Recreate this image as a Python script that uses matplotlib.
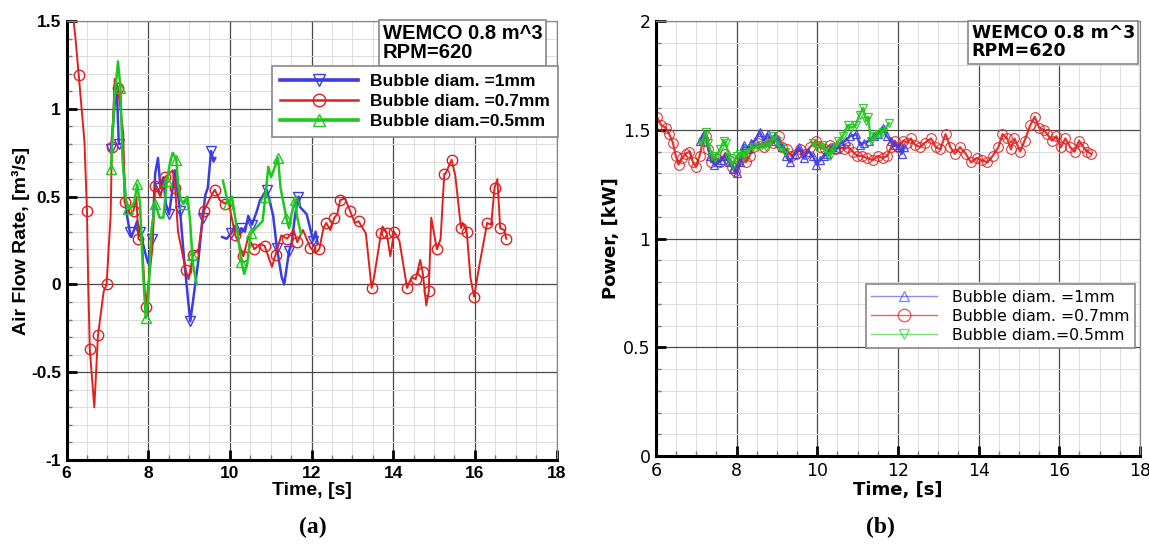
import numpy as np
import matplotlib.pyplot as plt
from matplotlib.lines import Line2D
from matplotlib.ticker import MultipleLocator

nan = np.nan

# ---- (a) air flow rate ----
t_red_a = [6.15, 6.22, 6.30, 6.44, 6.50, 6.53, 6.57, 6.68, 6.77, 6.91, 6.98, 7.08, 7.11, 7.18,
           7.26, 7.39, 7.42, 7.55, 7.64, 7.71, 7.76, 7.85, 7.94, 8.10, 8.17, 8.30, 8.41, 8.60,
           8.66, 8.73, 8.92, 8.99, 9.10, 9.23, 9.37, 9.49, 9.63, 9.75, 9.88, 9.96, 10.13, 10.21,
           10.33, 10.45, 10.60, 10.74, 10.85, 11.03, 11.12, 11.26, 11.40, 11.56, 11.65, 11.79,
           11.97, 12.10, 12.19, 12.29, 12.36, 12.46, 12.56, 12.63, 12.70, 12.82, 12.94, 13.06,
           13.15, 13.33, 13.47, 13.53, 13.70, 13.74, 13.84, 13.93, 14.02, 14.15, 14.34, 14.45,
           14.55, 14.66, 14.72, 14.81, 14.87, 14.93, 15.07, 15.16, 15.25, 15.28, 15.43, 15.52,
           15.66, 15.70, 15.80, 15.89, 15.98, 16.11, 16.30, 16.40, 16.48, 16.55, 16.62, 16.72, 16.77]
v_red_a = [1.55, 1.40, 1.19, 0.81, 0.42, 0.02, -0.37, -0.70, -0.29, -0.04, 0.00, 0.39, 0.78, 1.17,
           1.12, 0.86, 0.47, 0.40, 0.42, 0.50, 0.26, 0.24, -0.13, 0.20, 0.56, 0.50, 0.61, 0.65,
           0.55, 0.30, 0.08, 0.03, 0.17, 0.20, 0.42, 0.48, 0.54, 0.48, 0.46, 0.48, 0.28, 0.24,
           0.16, 0.27, 0.20, 0.23, 0.22, 0.10, 0.17, 0.28, 0.26, 0.31, 0.24, 0.31,
           0.21, 0.18, 0.20, 0.32, 0.35, 0.31, 0.38, 0.40, 0.48, 0.49, 0.42, 0.35,
           0.36, 0.29, -0.02, 0.04, 0.29, 0.33, 0.29, 0.16, 0.30, 0.25, -0.02, 0.04,
           0.03, 0.14, 0.07, -0.12, -0.04, 0.38, 0.20, 0.26, 0.63, 0.63, 0.71, 0.62,
           0.32, 0.35, 0.30, 0.04, -0.07, 0.11, 0.35, 0.34, 0.55, 0.60, 0.32, 0.31, 0.26]

t_blue_a = [7.09, 7.17, 7.23, 7.28, 7.37, 7.46, 7.55, 7.59, 7.73, 7.80, 7.96, 8.00, 8.10, 8.17,
            8.24, 8.30, 8.37, 8.43, 8.51, 8.60, 8.65, 8.78, 8.87, 8.96, 9.03, 9.14, 9.23, 9.33,
            9.40, 9.46, 9.54, 9.60, 9.64, nan,
            9.81, 9.92, 10.03, 10.15, 10.21, 10.28, 10.37, 10.45, 10.54, 10.65, 10.74, 10.90,
            10.97, 11.06, 11.15, 11.27, 11.33, 11.45, 11.51, 11.60, 11.68, 11.72, 11.88, 12.04,
            12.10, 12.15]
v_blue_a = [0.77, 1.00, 1.13, 0.80, 0.80, 0.42, 0.30, 0.27, 0.36, 0.30, 0.15, 0.12, 0.26, 0.63,
            0.72, 0.55, 0.61, 0.46, 0.40, 0.55, 0.65, 0.42, 0.17, -0.05, -0.21, -0.02, 0.14, 0.38,
            0.51, 0.55, 0.76, 0.70, 0.72, nan,
            0.27, 0.26, 0.29, 0.34, 0.28, 0.32, 0.30, 0.39, 0.34, 0.41, 0.48, 0.54,
            0.48, 0.39, 0.21, 0.04, 0.00, 0.19, 0.23, 0.40, 0.50, 0.44, 0.40, 0.25,
            0.30, 0.23]

t_green_a = [7.09, 7.17, 7.26, 7.32, 7.37, 7.44, 7.50, 7.59, 7.66, 7.73, 7.80, 7.87, 7.94, 8.00,
             8.08, 8.17, 8.28, 8.37, 8.46, 8.53, 8.60, 8.69, 8.73, 8.80, 8.87, 8.96, 9.02, 9.08,
             9.10, 9.19, nan,
             9.83, 9.90, 9.96, 10.05, 10.19, 10.28, 10.35, 10.42, 10.51, 10.63, 10.80, 10.87,
             10.94, 11.01, 11.18, 11.24, 11.30, 11.38, 11.45, 11.51, 11.60, 11.65, 11.74]
v_green_a = [0.66, 1.05, 1.27, 1.12, 0.72, 0.51, 0.43, 0.44, 0.47, 0.57, 0.46, 0.08, -0.19, -0.09,
             0.31, 0.46, 0.38, 0.38, 0.59, 0.69, 0.75, 0.71, 0.57, 0.48, 0.46, 0.50, 0.38, 0.17,
             0.11, 0.00, nan,
             0.59, 0.52, 0.46, 0.50, 0.29, 0.13, 0.06, 0.11, 0.29, 0.32, 0.36, 0.50,
             0.67, 0.61, 0.72, 0.55, 0.48, 0.38, 0.32, 0.40, 0.48, 0.38, 0.29]

# ---- (b) power ----
t_red_b = [6.02, 6.13, 6.24, 6.33, 6.42, 6.49, 6.56, 6.65, 6.74, 6.83, 6.92, 6.99, 7.08, 7.17,
           7.23, 7.30, 7.37, 7.48, 7.59, 7.71, 7.80, 7.89, 7.95, 8.05, 8.14, 8.23, 8.32, 8.41,
           8.54, 8.68, 8.79, 8.90, 9.04, 9.13, 9.24, 9.35, 9.46, 9.58, 9.69, 9.82, 9.96, 10.07,
           10.18, 10.32, 10.43, 10.54, 10.66, 10.77, 10.88, 10.99, 11.11, 11.24, 11.38, 11.50,
           11.62, 11.74, 11.83, 11.92, 12.01, 12.13, 12.23, 12.32, 12.43, 12.55, 12.67, 12.82,
           12.94, 13.05, 13.18, 13.30, 13.41, 13.54, 13.68, 13.81, 13.95, 14.08, 14.22, 14.35,
           14.49, 14.59, 14.71, 14.80, 14.89, 15.03, 15.14, 15.28, 15.39, 15.50, 15.61, 15.70,
           15.82, 15.93, 16.04, 16.15, 16.27, 16.38, 16.49, 16.60, 16.69, 16.78]
v_red_b = [1.56, 1.52, 1.51, 1.48, 1.44, 1.38, 1.34, 1.37, 1.39, 1.40, 1.35, 1.33, 1.38, 1.45,
           1.47, 1.41, 1.35, 1.37, 1.35, 1.39, 1.36, 1.33, 1.31, 1.36, 1.38, 1.35, 1.38, 1.42,
           1.44, 1.42, 1.45, 1.44, 1.47, 1.42, 1.41, 1.38, 1.39, 1.41, 1.39, 1.42, 1.45, 1.42,
           1.41, 1.43, 1.41, 1.42, 1.41, 1.42, 1.40, 1.38, 1.38, 1.37, 1.36, 1.38,
           1.37, 1.38, 1.42, 1.45, 1.42, 1.45, 1.44, 1.46, 1.43, 1.42, 1.44, 1.46,
           1.42, 1.41, 1.48, 1.42, 1.39, 1.42, 1.39, 1.35, 1.37, 1.36, 1.35, 1.38,
           1.42, 1.48, 1.46, 1.41, 1.46, 1.40, 1.45, 1.52, 1.56, 1.51, 1.50, 1.48,
           1.45, 1.47, 1.42, 1.46, 1.42, 1.40, 1.45, 1.42, 1.40, 1.39]

t_blue_b = [7.10, 7.19, 7.35, 7.44, 7.53, 7.62, 7.71, 7.82, 7.91, 8.00, 8.09, 8.18, 8.27, 8.36,
            8.45, 8.57, 8.68, 8.77, 8.86, 8.95, 9.04, 9.13, 9.22, 9.33, 9.44, 9.55, 9.67, 9.78,
            9.89, 9.98, 10.07, 10.16, 10.25, 10.36, 10.48, 10.59, 10.70, 10.81, 10.97, 11.06,
            11.17, 11.29, 11.41, 11.51, 11.62, 11.72, 11.83, 11.92, 12.03, 12.10, 12.16]
v_blue_b = [1.45, 1.48, 1.38, 1.34, 1.35, 1.36, 1.38, 1.35, 1.32, 1.30, 1.35, 1.43, 1.41, 1.44,
            1.45, 1.49, 1.45, 1.48, 1.45, 1.47, 1.44, 1.42, 1.38, 1.35, 1.39, 1.42, 1.37, 1.40,
            1.38, 1.34, 1.36, 1.38, 1.39, 1.42, 1.41, 1.44, 1.45, 1.47, 1.48, 1.43,
            1.44, 1.45, 1.47, 1.48, 1.51, 1.47, 1.45, 1.43, 1.42, 1.39, 1.42]

t_green_b = [7.14, 7.23, 7.30, 7.39, 7.46, 7.59, 7.68, 7.73, 7.82, 7.91, 8.00, 8.09, 8.18, 8.29,
             8.41, 8.52, 8.63, 8.72, 8.81, 8.90, 8.99, 9.08, 9.19, nan,
             9.89, 10.00, 10.12, 10.23, 10.32, 10.41, 10.52, 10.63, 10.75, 10.84, 10.95, 11.05,
             11.14, 11.21, 11.26, 11.33, 11.44, 11.53, 11.62, 11.78]
v_green_b = [1.44, 1.49, 1.44, 1.38, 1.37, 1.41, 1.45, 1.44, 1.37, 1.34, 1.38, 1.39, 1.38, 1.41,
             1.42, 1.42, 1.43, 1.42, 1.44, 1.47, 1.45, 1.42, 1.40, nan,
             1.44, 1.42, 1.43, 1.40, 1.38, 1.42, 1.45, 1.47, 1.52, 1.51, 1.52, 1.57,
             1.60, 1.54, 1.56, 1.45, 1.47, 1.48, 1.49, 1.53]

labels = ['Bubble diam. =1mm', 'Bubble diam. =0.7mm', 'Bubble diam.=0.5mm']
box_text = 'WEMCO 0.8 m^3\nRPM=620'

BLUE = '#3c3ce6'
RED = '#e0201e'
GREEN = '#1ec81e'


def style_axes(ax):
    ax.set_xlim(6, 18)
    ax.xaxis.set_major_locator(MultipleLocator(2))
    ax.xaxis.set_minor_locator(MultipleLocator(0.5))
    ax.yaxis.set_major_locator(MultipleLocator(0.5))
    ax.yaxis.set_minor_locator(MultipleLocator(0.1))
    ax.grid(which='major', color='#4a4a4a', lw=0.9)
    ax.grid(which='minor', color='#dcdcdc', lw=0.7)
    ax.set_axisbelow(True)
    for s in ['left', 'bottom']:
        ax.spines[s].set_linewidth(2.2)
        ax.spines[s].set_color('black')
    for s in ['top', 'right']:
        ax.spines[s].set_linewidth(0.9)
        ax.spines[s].set_color('#8a8a8a')
    ax.tick_params(which='major', direction='in', length=7, width=2, pad=4)
    ax.tick_params(which='minor', direction='in', length=3.5, width=1, color='#777777')


fig = plt.figure(figsize=(11.49, 5.49), dpi=100)

# panel (a)
ax1 = fig.add_axes([0.0579, 0.1621, 0.4265, 0.7996])
ax1.plot(t_blue_a, v_blue_a, color=BLUE, lw=1.8, marker='v', ms=6.5, mfc='none', mew=1.0, markevery=3)
ax1.plot(t_red_a, v_red_a, color=RED, lw=1.4, marker='o', ms=7.5, mfc='none', mew=1.0, markevery=2)
ax1.plot(t_green_a, v_green_a, color=GREEN, lw=1.8, marker='^', ms=6.5, mfc='none', mew=1.0, markevery=3)
ax1.set_ylim(-1, 1.5)
style_axes(ax1)
ax1.set_yticks([-1, -0.5, 0, 0.5, 1, 1.5])
ax1.set_yticklabels(['-1', '-0.5', '0', '0.5', '1', '1.5'], family='Liberation Sans',
                    weight='bold', fontsize=12.5)
ax1.set_xticks(range(6, 19, 2))
ax1.set_xticklabels([str(x) for x in range(6, 19, 2)], family='Liberation Sans',
                    weight='bold', fontsize=12.5)
ax1.set_xlabel('Time, [s]', family='Liberation Sans', weight='bold', fontsize=14, labelpad=1)
ax1.set_ylabel('Air Flow Rate, [m³/s]', family='Liberation Sans', weight='bold', fontsize=14,
               labelpad=1)
ax1.text(0.645, 0.993, box_text, transform=ax1.transAxes, ha='left', va='top',
         family='Liberation Sans', weight='bold', fontsize=14.5, linespacing=1.0,
         bbox=dict(boxstyle='square,pad=0.2', fc='white', ec='#888888', lw=1.2))
h1 = [Line2D([], [], color=BLUE, lw=2.6, marker='v', ms=8, mfc='none'),
      Line2D([], [], color=RED, lw=1.8, marker='o', ms=9, mfc='none'),
      Line2D([], [], color=GREEN, lw=2.6, marker='^', ms=8, mfc='none')]
leg1 = ax1.legend(h1, labels, loc='upper left', bbox_to_anchor=(0.419, 0.898),
                  borderaxespad=0, handlelength=4.5, fancybox=False, framealpha=1,
                  edgecolor='#888888', prop=dict(family='Liberation Sans', weight='bold', size=12.5),
                  labelspacing=0.3, handletextpad=0.7, borderpad=0.45)
leg1.get_frame().set_linewidth(1.2)

# panel (b)
ax2 = fig.add_axes([0.5709, 0.1694, 0.4212, 0.7923])
ax2.plot(t_red_b, v_red_b, color=RED, lw=1.6, marker='o', ms=7, mfc='none', mew=0.8, alpha=0.9)
ax2.plot(t_blue_b, v_blue_b, color=BLUE, lw=1.8, marker='^', ms=6, mfc='none', mew=0.9, alpha=0.9)
ax2.plot(t_green_b, v_green_b, color=GREEN, lw=1.8, marker='v', ms=6, mfc='none', mew=0.9, alpha=0.9)
ax2.set_ylim(0, 2)
style_axes(ax2)
ax2.set_yticks([0, 0.5, 1, 1.5, 2])
ax2.set_yticklabels(['0', '0.5', '1', '1.5', '2'], family='DejaVu Sans', fontsize=12.5)
ax2.set_xticks(range(6, 19, 2))
ax2.set_xticklabels([str(x) for x in range(6, 19, 2)], family='DejaVu Sans', fontsize=12.5)
ax2.set_xlabel('Time, [s]', family='DejaVu Sans', weight='bold', fontsize=13, labelpad=1)
ax2.set_ylabel('Power, [kW]', family='DejaVu Sans', weight='bold', fontsize=13, labelpad=2)
ax2.text(0.652, 0.993, box_text, transform=ax2.transAxes, ha='left', va='top',
         family='DejaVu Sans', weight='bold', fontsize=12.5, linespacing=1.0,
         bbox=dict(boxstyle='square,pad=0.2', fc='white', ec='#888888', lw=1.2))
h2 = [Line2D([], [], color=BLUE, lw=1.0, alpha=0.6, marker='^', ms=7, mfc='none'),
      Line2D([], [], color=RED, lw=1.0, alpha=0.7, marker='o', ms=9, mfc='none'),
      Line2D([], [], color=GREEN, lw=1.0, alpha=0.6, marker='v', ms=7, mfc='none')]
leg2 = ax2.legend(h2, labels, loc='upper left', bbox_to_anchor=(0.434, 0.395),
                  borderaxespad=0, handlelength=4.2, fancybox=False, framealpha=1,
                  edgecolor='#888888', prop=dict(family='DejaVu Sans', size=11.3),
                  labelspacing=0.25, handletextpad=0.9, borderpad=0.35)
leg2.get_frame().set_linewidth(1.2)

fig.text(0.272, 0.04, '(a)', ha='center', va='center', family='Liberation Serif',
         weight='bold', fontsize=17)
fig.text(0.766, 0.04, '(b)', ha='center', va='center', family='Liberation Serif',
         weight='bold', fontsize=17)

fig.savefig('out.png', dpi=100)
